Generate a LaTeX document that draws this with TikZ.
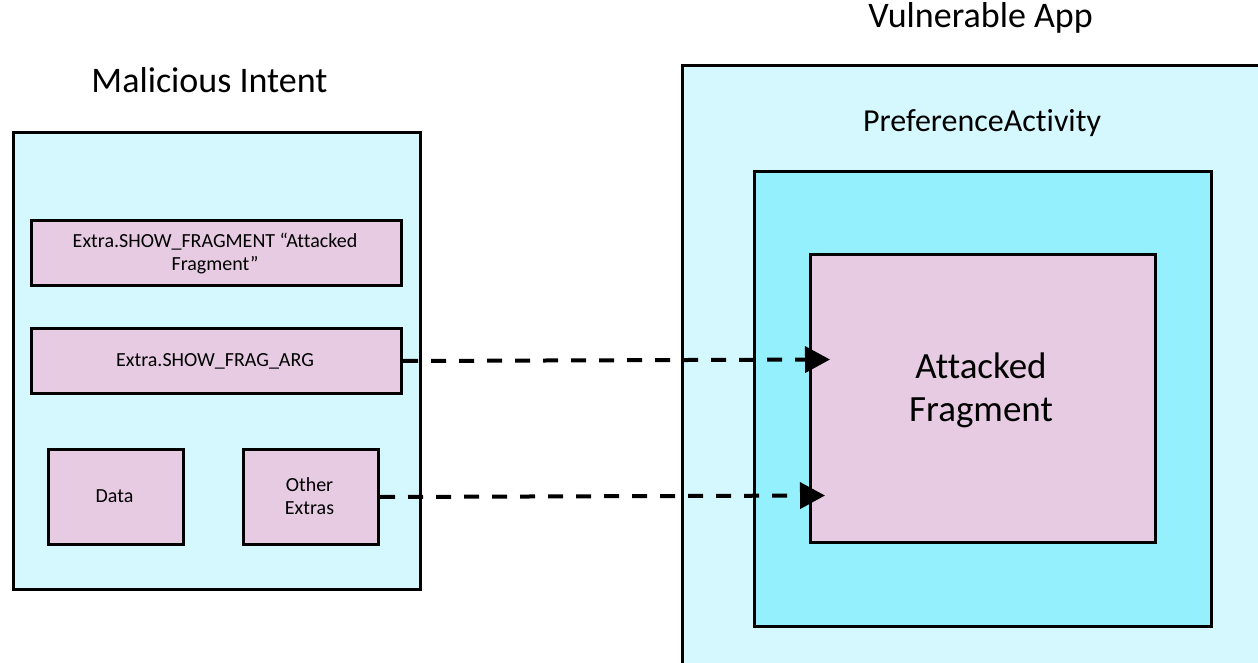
\documentclass[tikz,border=0pt]{standalone}
\usepackage{fontspec}
\setmainfont{Carlito}[Ligatures=NoCommon]
\usetikzlibrary{arrows.meta}
\definecolor{lcyan}{RGB}{213,248,255}
\definecolor{mcyan}{RGB}{148,240,252}
\definecolor{pinkf}{RGB}{230,203,226}
\begin{document}
\begin{tikzpicture}[x=1pt,y=-1pt,
  box/.style={draw=black, line width=3pt, rectangle, inner sep=0pt, anchor=north west},
  lbl/.style={anchor=base, inner sep=0pt, align=center, text=black},
  smalltext/.style={lbl, font=\fontsize{20}{23}\selectfont},
  bigtext/.style={lbl, font=\fontsize{36}{40}\selectfont},
  conn/.style={line width=4pt, dash pattern=on 15pt off 13pt, -{Triangle[length=25pt,width=26pt]}}]
\clip (0,0) rectangle (1258,663);
\fill[white] (0,0) rectangle (1258,663);
% right side
\node[box, fill=lcyan, minimum width=620pt, minimum height=599.5pt] (app) at (681,64) {};
\node[box, fill=mcyan, minimum width=457pt, minimum height=455pt] (pref) at (753,170) {};
\node[box, fill=pinkf, minimum width=345pt, minimum height=288pt] (frag) at (809,253) {};
% left side
\node[box, fill=lcyan, minimum width=407pt, minimum height=456pt] (intent) at (11.5,131.5) {};
\node[box, fill=pinkf, minimum width=370pt, minimum height=65pt] (showfrag) at (30,219) {};
\node[box, fill=pinkf, minimum width=370pt, minimum height=65pt] (fragarg) at (30,327) {};
\node[box, fill=pinkf, minimum width=135pt, minimum height=95pt] (data) at (47,448) {};
\node[box, fill=pinkf, minimum width=135pt, minimum height=95pt] (other) at (242,448) {};
% texts
\node[bigtext] (tintent) at (209.5,93) {Malicious Intent};
\node[bigtext] (tapp) at (980.5,28) {Vulnerable App};
\node[lbl, font=\fontsize{32}{38}\selectfont] (tpref) at (982,132) {PreferenceActivity};
\node[lbl, font=\fontsize{37}{43}\selectfont] (tfrag) at (981,421) {Attacked\\Fragment};
\node[smalltext] (tshow) at (215,270) {Extra.SHOW\_FRAGMENT “Attacked\\Fragment”};
\node[smalltext] (targ) at (215,366) {Extra.SHOW\_FRAG\_ARG};
\node[smalltext] (tdata) at (114.5,502) {Data};
\node[smalltext] (tother) at (309.5,514) {Other\\Extras};
% connectors
\coordinate (t1) at (830,359.5);
\coordinate (t2) at (825,495.5);
\draw[conn] (fragarg.east) -- (t1);
\draw[conn] (other.east) -- (t2);
\end{tikzpicture}
\end{document}
